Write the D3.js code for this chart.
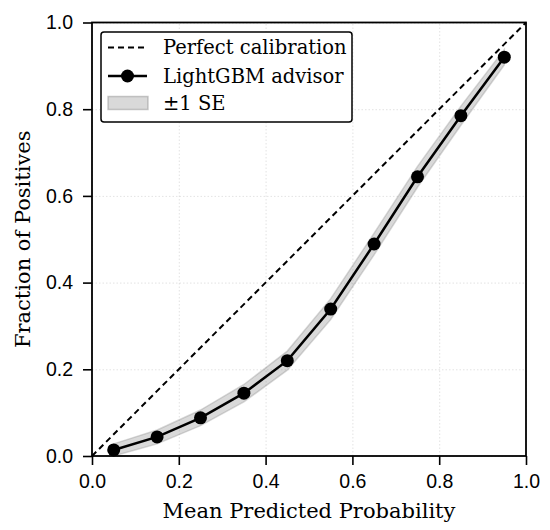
<!DOCTYPE html>
<html>
<head>
<meta charset="utf-8">
<script src="https://cdn.jsdelivr.net/npm/d3@7"></script>
<style>
body { margin: 0; background: #fff; }
svg { font-family: "DejaVu Serif", serif; }
.axis text { font-size: 19.5px; fill: #000; }
.axis path, .axis line { stroke: #000; }
.grid line { stroke: #b0b0b0; stroke-opacity: 0.35; stroke-dasharray: 1.5,2; }
.grid path { display: none; }
</style>
</head>
<body>
<svg width="550" height="530"></svg>
<script>
// binned calibration values
var meanPred = [0.05, 0.15, 0.25, 0.35, 0.45, 0.55, 0.65, 0.75, 0.85, 0.95]
var fracPos = [0.014, 0.044, 0.088, 0.145, 0.220, 0.339, 0.489, 0.644, 0.785, 0.920]
var stdErr = [0.014, 0.016, 0.018, 0.020, 0.022, 0.024, 0.025, 0.024, 0.022, 0.018]
var tickVals = [0.0, 0.2, 0.4, 0.6, 0.8, 1.0]
var legendLabels = ["Perfect calibration", "LightGBM advisor", "\u00b11 SE"]

var svg = d3.select("svg"),
    margin = { top: 22.5, right: 24, bottom: 74, left: 92 },
    width = +svg.attr("width") - margin.left - margin.right,
    height = +svg.attr("height") - margin.top - margin.bottom,
    g = svg.append("g")
           .attr("transform", "translate(" + margin.left + "," + margin.top + ")")

var x = d3.scaleLinear().domain([0, 1]).range([0, width])
var y = d3.scaleLinear().domain([0, 1]).range([height, 0])

// gridlines
g.append("g")
 .attr("class", "grid")
 .attr("transform", "translate(0," + height + ")")
 .call(d3.axisBottom(x).tickValues(tickVals).tickSize(-height).tickFormat(""))
g.append("g")
 .attr("class", "grid")
 .call(d3.axisLeft(y).tickValues(tickVals).tickSize(-width).tickFormat(""))

var pts = meanPred.map(function (d, i) { return [d, fracPos[i], stdErr[i]] })

// ±1 SE band
var band = d3.area()
    .x(function (d) { return x(d[0]) })
    .y0(function (d) { return y(d[1] - d[2]) })
    .y1(function (d) { return y(d[1] + d[2]) })
g.append("path")
 .datum(pts)
 .attr("d", band)
 .attr("fill", "#808080")
 .attr("fill-opacity", 0.3)
 .attr("stroke", "#808080")
 .attr("stroke-opacity", 0.3)
 .attr("stroke-width", 1.5)

// perfect calibration diagonal
g.append("line")
 .attr("x1", x(0)).attr("y1", y(0))
 .attr("x2", x(1)).attr("y2", y(1))
 .attr("stroke", "#000")
 .attr("stroke-width", 2)
 .attr("stroke-dasharray", "6,4")

// calibration curve
var line = d3.line()
    .x(function (d) { return x(d[0]) })
    .y(function (d) { return y(d[1]) })
g.append("path")
 .datum(pts)
 .attr("d", line)
 .attr("fill", "none")
 .attr("stroke", "#000")
 .attr("stroke-width", 2.5)

g.selectAll(".dot")
 .data(pts)
 .enter()
 .append("circle")
 .attr("class", "dot")
 .attr("cx", function (d) { return x(d[0]) })
 .attr("cy", function (d) { return y(d[1]) })
 .attr("r", 6.5)
 .attr("fill", "#000")

// axes
var fmt = d3.format(".1f")
g.append("g")
 .attr("class", "axis")
 .attr("transform", "translate(0," + height + ")")
 .call(d3.axisBottom(x).tickValues(tickVals).tickFormat(fmt).tickSize(9).tickPadding(9))
g.append("g")
 .attr("class", "axis")
 .call(d3.axisLeft(y).tickValues(tickVals).tickFormat(fmt).tickSize(9).tickPadding(10))
g.selectAll(".axis line").attr("stroke-width", 1.6)
g.selectAll(".axis .domain").remove()

// frame
g.append("rect")
 .attr("width", width).attr("height", height)
 .attr("fill", "none")
 .attr("stroke", "#000")
 .attr("stroke-width", 1.8)

// axis labels
svg.append("text")
 .attr("x", margin.left + width / 2)
 .attr("y", 518)
 .attr("text-anchor", "middle")
 .attr("font-size", 21)
 .text("Mean Predicted Probability")
svg.append("text")
 .attr("transform", "translate(30," + (margin.top + height / 2) + ") rotate(-90)")
 .attr("text-anchor", "middle")
 .attr("font-size", 21)
 .text("Fraction of Positives")

// legend
var leg = svg.append("g").attr("transform", "translate(101,32)")
leg.append("rect")
 .attr("width", 251).attr("height", 90)
 .attr("rx", 3)
 .attr("fill", "#fff")
 .attr("stroke", "#000")
 .attr("stroke-width", 1.5)
var rowY = [15.5, 44, 71]
leg.append("line")
 .attr("x1", 7).attr("x2", 46).attr("y1", rowY[0]).attr("y2", rowY[0])
 .attr("stroke", "#000").attr("stroke-width", 2).attr("stroke-dasharray", "6,4")
leg.append("line")
 .attr("x1", 7).attr("x2", 46).attr("y1", rowY[1]).attr("y2", rowY[1])
 .attr("stroke", "#000").attr("stroke-width", 2.5)
leg.append("circle")
 .attr("cx", 26.5).attr("cy", rowY[1]).attr("r", 6.5).attr("fill", "#000")
leg.append("rect")
 .attr("x", 7).attr("y", rowY[2] - 6.5).attr("width", 40).attr("height", 13)
 .attr("fill", "#808080").attr("fill-opacity", 0.3)
 .attr("stroke", "#808080").attr("stroke-opacity", 0.4).attr("stroke-width", 1.5)
leg.selectAll(".lt")
 .data(legendLabels)
 .enter()
 .append("text")
 .attr("class", "lt")
 .attr("x", 62)
 .attr("y", function (d, i) { return rowY[i] })
 .attr("dy", "0.35em")
 .attr("font-size", 19.5)
 .text(function (d) { return d })
</script>
</body>
</html>
